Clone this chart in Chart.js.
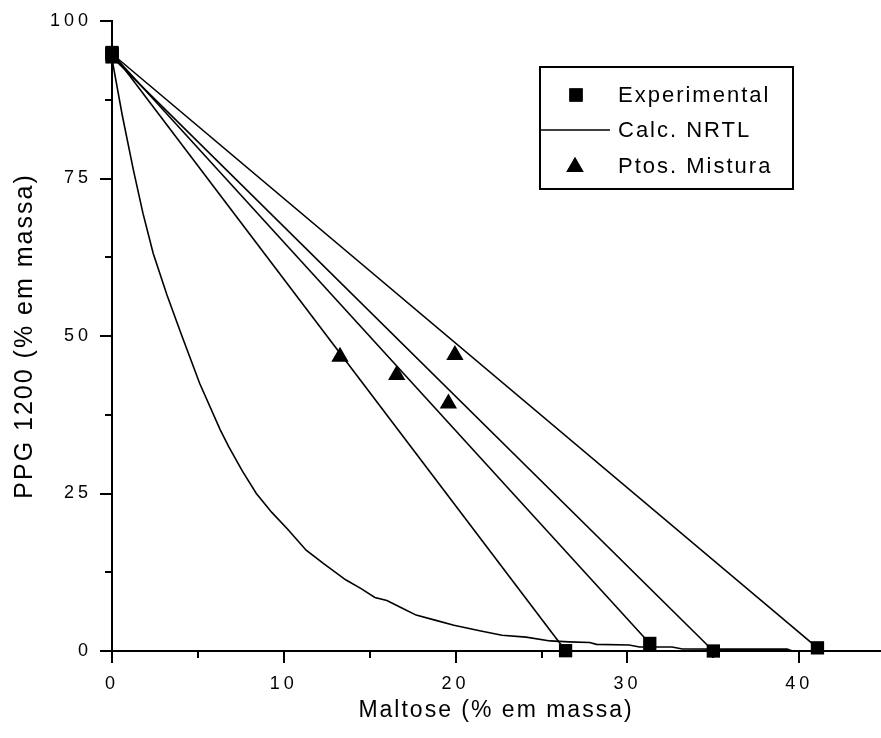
<!DOCTYPE html>
<html><head><meta charset="utf-8">
<script src="https://cdn.jsdelivr.net/npm/chart.js@4/dist/chart.umd.min.js"></script>
<style>html,body{margin:0;padding:0;background:#fff;}#wrap{width:881px;height:738px;}</style>
</head><body><div id="wrap"><canvas id="c" width="881" height="738"></canvas></div>
<script>
// Binodal curve (Calc. NRTL)
const curveX = [0, 0.6, 1.25, 1.8, 2.4, 3.2, 4.0, 5.1, 6.3, 6.8, 7.6, 8.4, 9.3, 10.2, 11.3, 12.3, 13.6, 14.5, 15.3, 16.0, 16.9, 17.7, 18.8, 19.9, 21.4, 22.7, 24.1, 25.5, 26.6, 27.8, 28.2, 30.1, 30.7, 32.6, 33.2, 36.0, 39.3, 39.6];
const curveY = [94.0, 85.0, 76.3, 69.5, 63.1, 56.5, 50.5, 42.5, 35.1, 32.4, 28.5, 25.0, 22.0, 19.4, 16.0, 13.9, 11.3, 9.9, 8.5, 8.0, 6.8, 5.7, 4.9, 4.1, 3.2, 2.5, 2.2, 1.6, 1.45, 1.35, 1.05, 0.95, 0.63, 0.63, 0.32, 0.3, 0.3, 0.0];
// Experimental tie-line ends
const expTopX = [0, 0, 0, 0];
const expTopY = [95.0, 94.8, 94.3, 94.8];
const expBotX = [26.4, 31.3, 35.0, 41.06];
const expBotY = [0.05, 1.2, 0.0, 0.5];
// Mixture points
const mixX = [13.27, 16.57, 19.58, 19.96];
const mixY = [46.7, 43.8, 39.3, 47.0];
// Axes
const xMajor = [0, 10, 20, 30, 40];
const xMinor = [5, 15, 25, 35];
const yMajor = [0, 25, 50, 75, 100];
const yMinor = [12.5, 37.5, 62.5, 87.5];
const seriesNames = ['Experimental', 'Calc. NRTL', 'Ptos. Mistura'];
const xTitle = 'Maltose (% em massa)';
const yTitle = 'PPG 1200 (% em massa)';

const FONT = "'Liberation Sans', Arial, sans-serif";
const lineW = 1.6;

const datasets = [];
for (let i = 0; i < expBotX.length; i++) {
  datasets.push({
    data: [{x: expTopX[i], y: expTopY[i]}, {x: expBotX[i], y: expBotY[i]}],
    showLine: true, borderColor: '#000', borderWidth: lineW, pointRadius: 0, clip: false, order: 3
  });
}
datasets.push({
  label: seriesNames[1],
  data: curveX.map((x, i) => ({x, y: curveY[i]})),
  showLine: true, borderColor: '#000', borderWidth: lineW, pointRadius: 0, tension: 0, clip: false, order: 3
});
const expPts = [];
for (let i = 0; i < expTopX.length; i++) expPts.push({x: expTopX[i], y: expTopY[i]});
for (let i = 0; i < expBotX.length; i++) expPts.push({x: expBotX[i], y: expBotY[i]});
datasets.push({
  label: seriesNames[0], data: expPts, showLine: false,
  pointStyle: 'rect', pointRadius: 9.4, backgroundColor: '#000', borderColor: '#000', borderWidth: 0, clip: false, order: 1
});
datasets.push({
  label: seriesNames[2], data: mixX.map((x, i) => ({x, y: mixY[i]})), showLine: false,
  pointStyle: 'triangle', pointRadius: 10, backgroundColor: '#000', borderColor: '#000', borderWidth: 0, clip: false, order: 1
});

const tickPlugin = {
  id: 'origin',
  beforeDraw(chart) { chart.ctx.letterSpacing = '2px'; },
  afterDatasetsDraw(chart) { chart.ctx.letterSpacing = '4px'; },
  afterDraw(chart) {
    const ctx = chart.ctx;
    ctx.letterSpacing = '0px';
    const xs = chart.scales.x, ys = chart.scales.y;
    const a = chart.chartArea;
    ctx.save();
    ctx.strokeStyle = '#000';
    ctx.lineWidth = 2;
    ctx.beginPath();
    xMajor.forEach(v => { const p = Math.round(xs.getPixelForValue(v)); ctx.moveTo(p, a.bottom); ctx.lineTo(p, a.bottom + 12); });
    xMinor.forEach(v => { const p = Math.round(xs.getPixelForValue(v)); ctx.moveTo(p, a.bottom); ctx.lineTo(p, a.bottom + 7); });
    yMajor.forEach(v => { const p = Math.round(ys.getPixelForValue(v)); ctx.moveTo(a.left, p); ctx.lineTo(a.left - 12, p); });
    yMinor.forEach(v => { const p = Math.round(ys.getPixelForValue(v)); ctx.moveTo(a.left, p); ctx.lineTo(a.left - 7, p); });
    ctx.stroke();
    // legend
    ctx.lineWidth = 2;
    ctx.strokeRect(540, 67, 253, 122);
    ctx.fillStyle = '#000';
    Chart.helpers.drawPoint(ctx, {pointStyle: 'rect', radius: 9.4, rotation: 0, borderWidth: 0}, 576, 95);
    ctx.fill();
    ctx.lineWidth = lineW;
    ctx.beginPath(); ctx.moveTo(541, 130); ctx.lineTo(610, 130); ctx.stroke();
    Chart.helpers.drawPoint(ctx, {pointStyle: 'triangle', radius: 10, rotation: 0, borderWidth: 0}, 575, 167);
    ctx.fill();
    ctx.font = '22px ' + FONT;
    ctx.letterSpacing = '2px';
    ctx.textBaseline = 'middle';
    ctx.textAlign = 'left';
    ctx.fillText(seriesNames[0], 618, 96);
    ctx.fillText(seriesNames[1], 618, 131);
    ctx.fillText(seriesNames[2], 618, 167);
    ctx.letterSpacing = '0px';
    ctx.restore();
  }
};

function noPad(s) { s.paddingTop = 0; s.paddingBottom = 0; s.paddingLeft = 0; s.paddingRight = 0; }

new Chart(document.getElementById('c'), {
  type: 'scatter',
  data: {datasets},
  options: {
    responsive: false, animation: false, devicePixelRatio: 1,
    layout: {autoPadding: false, padding: {top: 21, right: 1, left: 0, bottom: 0}},
    plugins: {legend: {display: false}, tooltip: {enabled: false}},
    scales: {
      x: {
        type: 'linear', min: 0, max: 44.7,
        afterFit: s => { s.height = 87; noPad(s); },
        ticks: {stepSize: 10, includeBounds: false, color: '#000', font: {size: 18, family: FONT}, padding: 22, maxRotation: 0, z: 1},
        grid: {display: false, drawTicks: false},
        border: {display: true, color: '#000', width: 2},
        title: {display: true, text: xTitle, color: '#000', font: {size: 23, family: FONT}, padding: {top: 0, bottom: 14}}
      },
      y: {
        type: 'linear', min: 0, max: 100,
        afterFit: s => { s.width = 112; noPad(s); },
        ticks: {stepSize: 25, includeBounds: false, color: '#000', font: {size: 18, family: FONT}, padding: 20, z: 1},
        grid: {display: false, drawTicks: false},
        border: {display: true, color: '#000', width: 2},
        title: {display: true, text: yTitle, color: '#000', font: {size: 25, family: FONT}, padding: {top: 10, bottom: 0}}
      }
    }
  },
  plugins: [tickPlugin]
});
</script></body></html>
